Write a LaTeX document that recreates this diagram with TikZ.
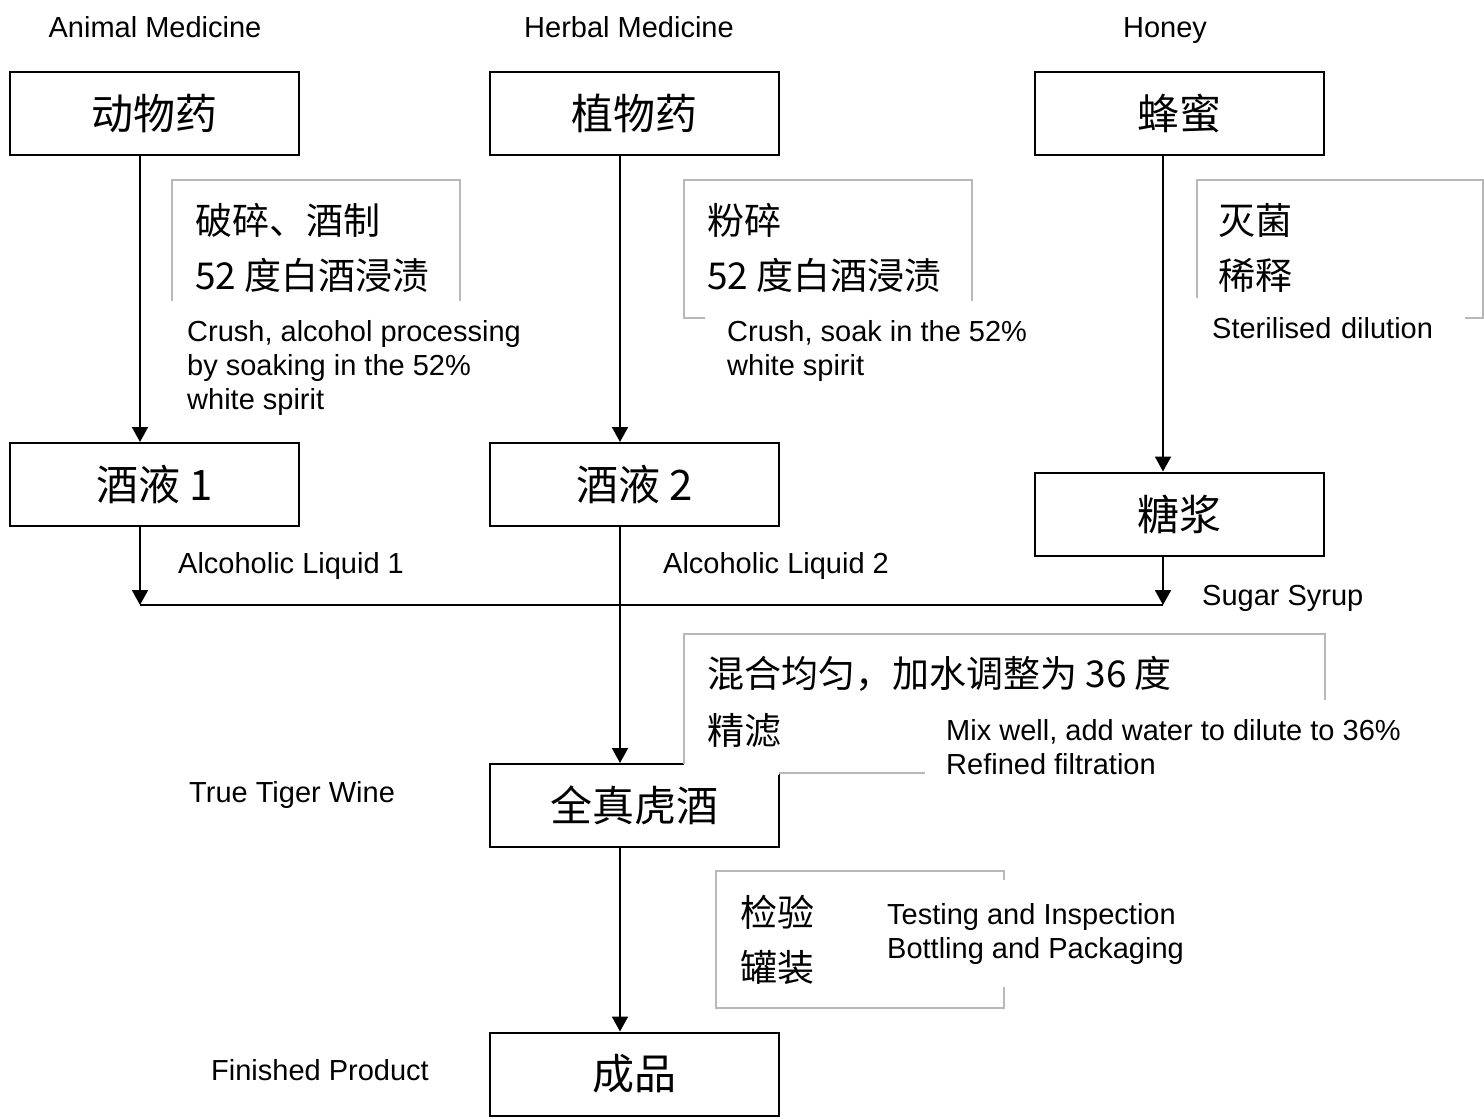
\documentclass[tikz,border=0pt]{standalone}
\usepackage{fontspec}
\setmainfont{Liberation Sans}
\newfontfamily\cjk{Noto Sans CJK SC}
\usetikzlibrary{arrows.meta}
\begin{document}
\begin{tikzpicture}[x=1pt,y=-1pt,
  box/.style={draw, line width=2pt, fill=white, minimum width=289pt, minimum height=83pt, inner sep=0pt, font=\cjk\fontsize{42}{50}\selectfont},
  gbox/.style={draw=black!28, line width=1.5pt, fill=white},
  gline/.style={draw=black!28, line width=1.5pt},
  ctext/.style={anchor=base west, inner sep=0pt, font=\cjk\fontsize{37}{44}\selectfont},
  etext/.style={inner sep=0pt, font=\fontsize{29}{34}\selectfont},
  elbl/.style={anchor=north west, fill=white, align=left, inner ysep=19.5pt, font=\fontsize{29}{34}\selectfont},
  flow/.style={line width=2pt, -{Triangle[width=16pt,length=15pt]}},
  plain/.style={line width=2pt}
]
\useasboundingbox (0,0) rectangle (1484,1119);
\fill[white] (0,0) rectangle (1484,1119);

% headings
\node[etext, anchor=base] (h1) at (155,37.5) {Animal Medicine};
\node[etext, anchor=base] (h2) at (629,37.5) {Herbal Medicine};
\node[etext, anchor=base] (h3) at (1165,37.5) {Honey};

% main boxes
\node[box] (an) at (154.5,113.5) {动物药};
\node[box] (hm) at (634.5,113.5) {植物药};
\node[box] (hy) at (1179,113.5) {蜂蜜};
\node[box] (j1) at (154.5,484.5) {酒液 1};
\node[box] (j2) at (634.5,484.5) {酒液 2};
\node[box] (tj) at (1179,514) {糖浆};
\node[box] (qz) at (634.5,805.5) {全真虎酒};
\node[box] (cp) at (634.5,1074) {成品};

% connectors
\coordinate (xa) at (140,0);
\coordinate (xb) at (620,0);
\coordinate (xc) at (1163,0);
\coordinate (mL) at (140,605);
\coordinate (mR) at (1163,605);
\draw[flow] (xa |- an.south) -- (xa |- j1.north);
\draw[flow] (xb |- hm.south) -- (xb |- j2.north);
\draw[flow] (xc |- hy.south) -- (xc |- tj.north);
\draw[flow] (xa |- j1.south) -- (mL);
\draw[flow] (xc |- tj.south) -- (mR);
\draw[plain] (mL) -- (mR);
\draw[flow] (xb |- j2.south) -- (xb |- qz.north);
\draw[flow] (xb |- qz.south) -- (xb |- cp.north);

% side labels
\node[etext, anchor=base west] (l1a) at (178,573.5) {Alcoholic Liquid 1};
\node[etext, anchor=base west] (l2a) at (663,573.5) {Alcoholic Liquid 2};
\node[etext, anchor=base west] (lsy) at (1202,605.5) {Sugar Syrup};
\node[etext, anchor=base west] (ltw) at (189,802) {True Tiger Wine};
\node[etext, anchor=base west] (lfp) at (211,1080) {Finished Product};

% grey process boxes
\draw[gbox] (172,180) rectangle (460,318);
\node[ctext] (g1a) at (195,234) {破碎、酒制};
\node[ctext] (g1b) at (195,289) {52 度白酒浸渍};
\node[elbl, inner xsep=21pt] (e1) at (166,301) {Crush, alcohol processing\\by soaking in the 52\%\\white spirit};

\draw[gbox] (684,180) rectangle (972,318);
\node[ctext] (g2a) at (707,234) {粉碎};
\node[ctext] (g2b) at (707,289) {52 度白酒浸渍};
\node[elbl, inner xsep=22pt] (e2) at (705,301) {Crush, soak in the 52\%\\white spirit};

\draw[gbox] (1197,180) rectangle (1483,318);
\node[ctext] (g3a) at (1218,234) {灭菌};
\node[ctext] (g3b) at (1218,289) {稀释};
\node[elbl, inner xsep=17pt, text width=236pt] (e3) at (1195,298) {Sterilised dilution};

\fill[white] (684,634) rectangle (1325,773);
\fill[white] (684,763) rectangle (779,775);
\draw[gline] (779,773) -- (1325,773) -- (1325,634) -- (684,634) -- (684,764);
\node[ctext] (g4a) at (707,687) {混合均匀，加水调整为 36 度};
\node[ctext] (g4b) at (707,744) {精滤};
\node[elbl, inner xsep=21pt] (e4) at (925,700) {Mix well, add water to dilute to 36\%\\Refined filtration};

\draw[gbox] (716,871) rectangle (1004,1008);
\node[ctext] (g5a) at (740,926) {检验};
\node[ctext] (g5b) at (740,981) {罐装};
\node[elbl, inner xsep=20pt, inner ysep=23pt] (e5) at (867,880) {Testing and Inspection\\Bottling and Packaging};
\end{tikzpicture}
\end{document}
